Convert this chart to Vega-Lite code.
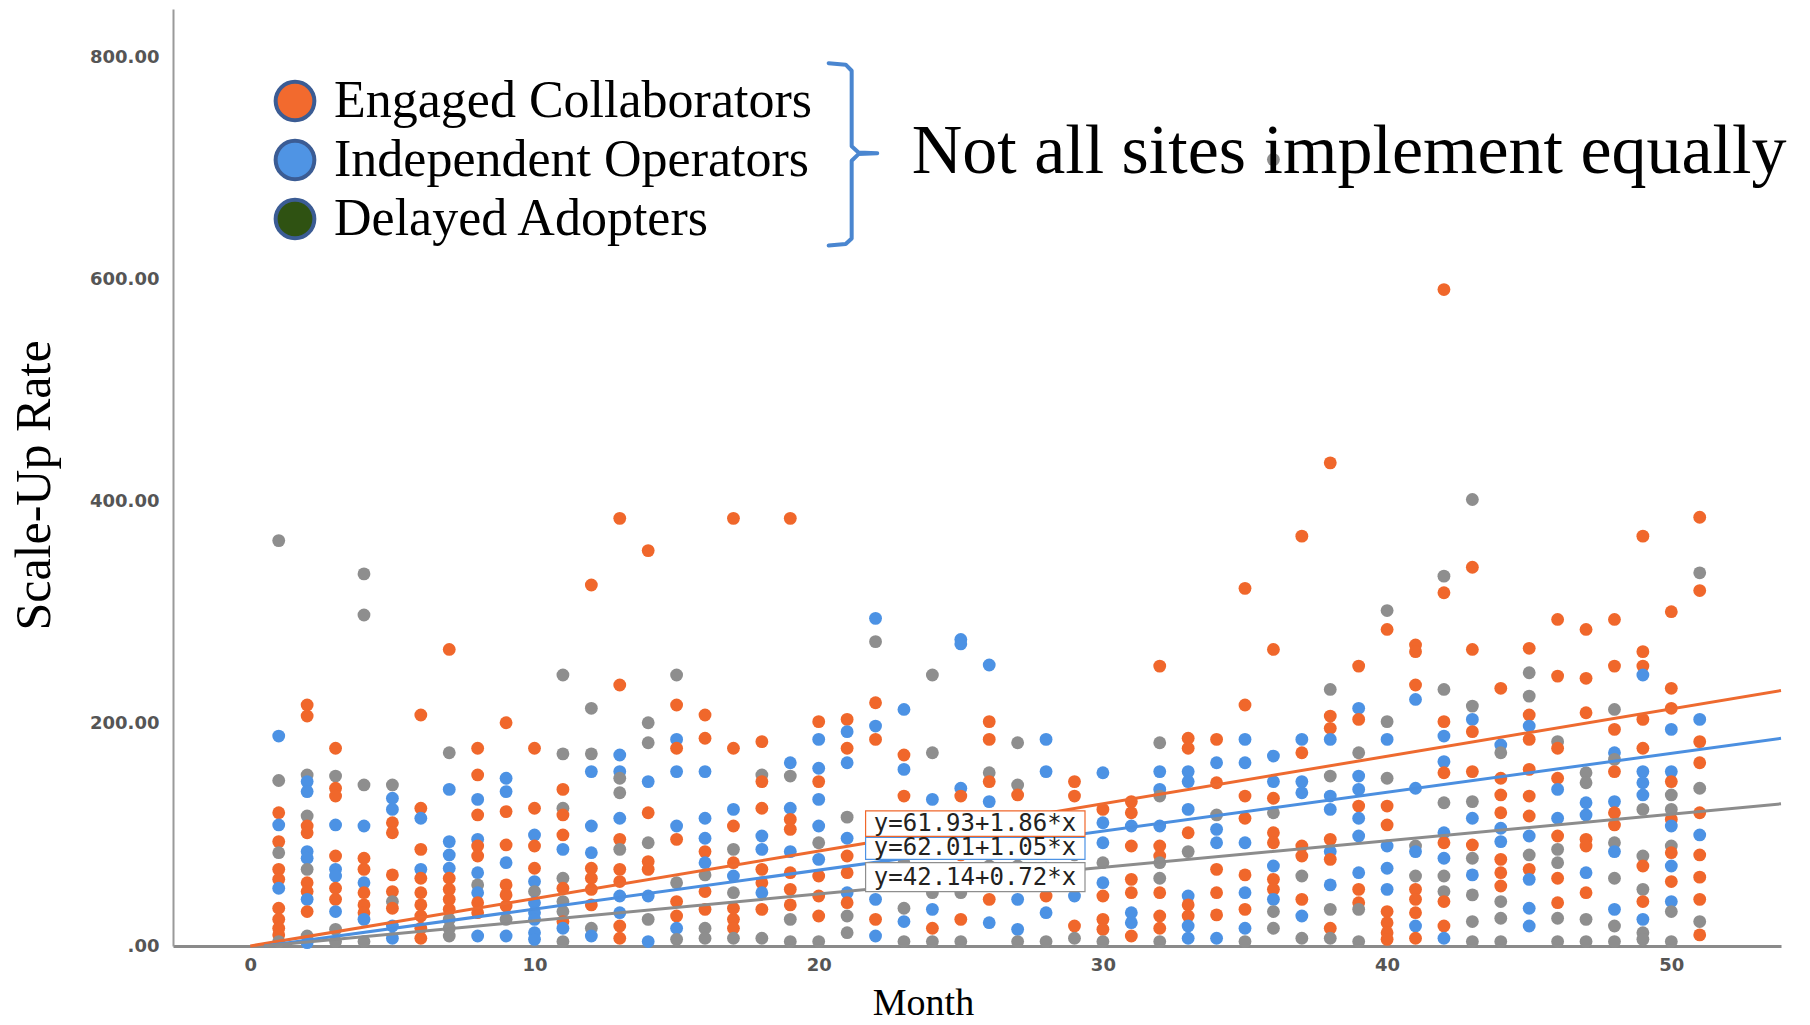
{
  "$schema": "https://vega.github.io/schema/vega-lite/v6.json",
  "autosize": {"type": "none"},
  "padding": {"left": 173, "top": 9, "right": 29, "bottom": 79},
  "width": 1608,
  "height": 937,
  "background": "white",
  "config": {
    "view": {"stroke": null},
    "font": "Liberation Sans"
  },
  "resolve": {"scale": {"color": "independent"}, "legend": {"color": "independent"}},
  "datasets": {
    "pts": [
      {"month":1,"rate":365,"g":"D"},{"month":1,"rate":189,"g":"I"},{"month":1,"rate":149,"g":"D"},{"month":1,"rate":120,"g":"E"},{"month":1,"rate":109,"g":"I"},{"month":1,"rate":94,"g":"E"},{"month":1,"rate":84,"g":"D"},{"month":1,"rate":69,"g":"E"},{"month":1,"rate":60,"g":"E"},{"month":1,"rate":52,"g":"I"},{"month":1,"rate":34,"g":"E"},{"month":1,"rate":24,"g":"E"},{"month":1,"rate":16,"g":"E"},{"month":1,"rate":10,"g":"E"},{"month":1,"rate":4,"g":"D"},
      {"month":2,"rate":217,"g":"E"},{"month":2,"rate":207,"g":"E"},{"month":2,"rate":154,"g":"D"},{"month":2,"rate":148,"g":"I"},{"month":2,"rate":139,"g":"I"},{"month":2,"rate":117,"g":"D"},{"month":2,"rate":108,"g":"E"},{"month":2,"rate":102,"g":"E"},{"month":2,"rate":85,"g":"I"},{"month":2,"rate":79,"g":"I"},{"month":2,"rate":69,"g":"D"},{"month":2,"rate":57,"g":"E"},{"month":2,"rate":49,"g":"E"},{"month":2,"rate":42,"g":"I"},{"month":2,"rate":31,"g":"E"},{"month":2,"rate":9,"g":"D"},{"month":2,"rate":3,"g":"I"},
      {"month":3,"rate":178,"g":"E"},{"month":3,"rate":153,"g":"D"},{"month":3,"rate":142,"g":"E"},{"month":3,"rate":135,"g":"E"},{"month":3,"rate":109,"g":"I"},{"month":3,"rate":81,"g":"E"},{"month":3,"rate":69,"g":"I"},{"month":3,"rate":63,"g":"I"},{"month":3,"rate":52,"g":"E"},{"month":3,"rate":42,"g":"E"},{"month":3,"rate":31,"g":"I"},{"month":3,"rate":15,"g":"D"},{"month":3,"rate":4,"g":"D"},
      {"month":4,"rate":335,"g":"D"},{"month":4,"rate":298,"g":"D"},{"month":4,"rate":145,"g":"D"},{"month":4,"rate":108,"g":"I"},{"month":4,"rate":79,"g":"E"},{"month":4,"rate":69,"g":"E"},{"month":4,"rate":57,"g":"I"},{"month":4,"rate":48,"g":"E"},{"month":4,"rate":37,"g":"E"},{"month":4,"rate":30,"g":"E"},{"month":4,"rate":24,"g":"I"},{"month":4,"rate":4,"g":"D"},
      {"month":5,"rate":145,"g":"D"},{"month":5,"rate":133,"g":"I"},{"month":5,"rate":123,"g":"I"},{"month":5,"rate":111,"g":"E"},{"month":5,"rate":102,"g":"E"},{"month":5,"rate":64,"g":"E"},{"month":5,"rate":49,"g":"E"},{"month":5,"rate":40,"g":"D"},{"month":5,"rate":34,"g":"E"},{"month":5,"rate":18,"g":"I"},{"month":5,"rate":7,"g":"I"},
      {"month":6,"rate":208,"g":"E"},{"month":6,"rate":124,"g":"E"},{"month":6,"rate":115,"g":"I"},{"month":6,"rate":87,"g":"E"},{"month":6,"rate":69,"g":"I"},{"month":6,"rate":61,"g":"E"},{"month":6,"rate":48,"g":"E"},{"month":6,"rate":37,"g":"E"},{"month":6,"rate":27,"g":"E"},{"month":6,"rate":16,"g":"E"},{"month":6,"rate":7,"g":"E"},
      {"month":7,"rate":267,"g":"E"},{"month":7,"rate":174,"g":"D"},{"month":7,"rate":141,"g":"I"},{"month":7,"rate":94,"g":"I"},{"month":7,"rate":82,"g":"I"},{"month":7,"rate":70,"g":"I"},{"month":7,"rate":61,"g":"E"},{"month":7,"rate":51,"g":"E"},{"month":7,"rate":42,"g":"E"},{"month":7,"rate":33,"g":"E"},{"month":7,"rate":24,"g":"D"},{"month":7,"rate":16,"g":"D"},{"month":7,"rate":9,"g":"D"},
      {"month":8,"rate":178,"g":"E"},{"month":8,"rate":154,"g":"E"},{"month":8,"rate":132,"g":"I"},{"month":8,"rate":118,"g":"E"},{"month":8,"rate":96,"g":"I"},{"month":8,"rate":90,"g":"E"},{"month":8,"rate":81,"g":"E"},{"month":8,"rate":66,"g":"I"},{"month":8,"rate":55,"g":"D"},{"month":8,"rate":48,"g":"I"},{"month":8,"rate":39,"g":"E"},{"month":8,"rate":30,"g":"E"},{"month":8,"rate":9,"g":"I"},
      {"month":9,"rate":201,"g":"E"},{"month":9,"rate":151,"g":"I"},{"month":9,"rate":139,"g":"I"},{"month":9,"rate":121,"g":"E"},{"month":9,"rate":91,"g":"E"},{"month":9,"rate":75,"g":"I"},{"month":9,"rate":55,"g":"E"},{"month":9,"rate":46,"g":"E"},{"month":9,"rate":36,"g":"E"},{"month":9,"rate":24,"g":"D"},{"month":9,"rate":9,"g":"I"},
      {"month":10,"rate":178,"g":"E"},{"month":10,"rate":124,"g":"E"},{"month":10,"rate":100,"g":"I"},{"month":10,"rate":90,"g":"E"},{"month":10,"rate":70,"g":"E"},{"month":10,"rate":58,"g":"I"},{"month":10,"rate":49,"g":"D"},{"month":10,"rate":39,"g":"I"},{"month":10,"rate":30,"g":"I"},{"month":10,"rate":24,"g":"I"},{"month":10,"rate":12,"g":"I"},{"month":10,"rate":6,"g":"I"},
      {"month":11,"rate":244,"g":"D"},{"month":11,"rate":173,"g":"D"},{"month":11,"rate":141,"g":"E"},{"month":11,"rate":124,"g":"D"},{"month":11,"rate":118,"g":"E"},{"month":11,"rate":100,"g":"E"},{"month":11,"rate":87,"g":"I"},{"month":11,"rate":61,"g":"D"},{"month":11,"rate":52,"g":"E"},{"month":11,"rate":40,"g":"D"},{"month":11,"rate":31,"g":"D"},{"month":11,"rate":22,"g":"E"},{"month":11,"rate":16,"g":"I"},{"month":11,"rate":4,"g":"D"},
      {"month":12,"rate":325,"g":"E"},{"month":12,"rate":214,"g":"D"},{"month":12,"rate":173,"g":"D"},{"month":12,"rate":157,"g":"I"},{"month":12,"rate":108,"g":"I"},{"month":12,"rate":84,"g":"I"},{"month":12,"rate":70,"g":"E"},{"month":12,"rate":61,"g":"E"},{"month":12,"rate":51,"g":"E"},{"month":12,"rate":37,"g":"E"},{"month":12,"rate":16,"g":"D"},{"month":12,"rate":9,"g":"I"},
      {"month":13,"rate":385,"g":"E"},{"month":13,"rate":235,"g":"E"},{"month":13,"rate":172,"g":"I"},{"month":13,"rate":157,"g":"I"},{"month":13,"rate":151,"g":"D"},{"month":13,"rate":138,"g":"D"},{"month":13,"rate":115,"g":"I"},{"month":13,"rate":96,"g":"E"},{"month":13,"rate":87,"g":"D"},{"month":13,"rate":69,"g":"E"},{"month":13,"rate":58,"g":"E"},{"month":13,"rate":45,"g":"I"},{"month":13,"rate":30,"g":"I"},{"month":13,"rate":18,"g":"E"},{"month":13,"rate":7,"g":"E"},
      {"month":14,"rate":356,"g":"E"},{"month":14,"rate":201,"g":"D"},{"month":14,"rate":183,"g":"D"},{"month":14,"rate":148,"g":"I"},{"month":14,"rate":120,"g":"E"},{"month":14,"rate":93,"g":"D"},{"month":14,"rate":76,"g":"E"},{"month":14,"rate":69,"g":"E"},{"month":14,"rate":45,"g":"I"},{"month":14,"rate":24,"g":"D"},{"month":14,"rate":4,"g":"I"},
      {"month":15,"rate":244,"g":"D"},{"month":15,"rate":217,"g":"E"},{"month":15,"rate":186,"g":"I"},{"month":15,"rate":178,"g":"E"},{"month":15,"rate":157,"g":"I"},{"month":15,"rate":108,"g":"I"},{"month":15,"rate":96,"g":"E"},{"month":15,"rate":57,"g":"D"},{"month":15,"rate":40,"g":"E"},{"month":15,"rate":27,"g":"E"},{"month":15,"rate":16,"g":"I"},{"month":15,"rate":6,"g":"D"},
      {"month":16,"rate":208,"g":"E"},{"month":16,"rate":187,"g":"E"},{"month":16,"rate":157,"g":"I"},{"month":16,"rate":115,"g":"I"},{"month":16,"rate":97,"g":"I"},{"month":16,"rate":85,"g":"E"},{"month":16,"rate":75,"g":"I"},{"month":16,"rate":64,"g":"D"},{"month":16,"rate":49,"g":"E"},{"month":16,"rate":33,"g":"E"},{"month":16,"rate":16,"g":"D"},{"month":16,"rate":7,"g":"D"},
      {"month":17,"rate":385,"g":"E"},{"month":17,"rate":178,"g":"E"},{"month":17,"rate":123,"g":"I"},{"month":17,"rate":108,"g":"E"},{"month":17,"rate":87,"g":"D"},{"month":17,"rate":75,"g":"E"},{"month":17,"rate":63,"g":"I"},{"month":17,"rate":48,"g":"D"},{"month":17,"rate":34,"g":"E"},{"month":17,"rate":24,"g":"E"},{"month":17,"rate":16,"g":"E"},{"month":17,"rate":7,"g":"D"},
      {"month":18,"rate":184,"g":"E"},{"month":18,"rate":154,"g":"D"},{"month":18,"rate":148,"g":"E"},{"month":18,"rate":124,"g":"E"},{"month":18,"rate":99,"g":"I"},{"month":18,"rate":87,"g":"I"},{"month":18,"rate":69,"g":"E"},{"month":18,"rate":57,"g":"E"},{"month":18,"rate":48,"g":"I"},{"month":18,"rate":33,"g":"E"},{"month":18,"rate":7,"g":"D"},
      {"month":19,"rate":385,"g":"E"},{"month":19,"rate":165,"g":"I"},{"month":19,"rate":153,"g":"D"},{"month":19,"rate":124,"g":"I"},{"month":19,"rate":114,"g":"E"},{"month":19,"rate":105,"g":"E"},{"month":19,"rate":85,"g":"I"},{"month":19,"rate":66,"g":"E"},{"month":19,"rate":51,"g":"E"},{"month":19,"rate":37,"g":"E"},{"month":19,"rate":24,"g":"D"},{"month":19,"rate":4,"g":"D"},
      {"month":20,"rate":202,"g":"E"},{"month":20,"rate":186,"g":"I"},{"month":20,"rate":160,"g":"I"},{"month":20,"rate":148,"g":"E"},{"month":20,"rate":132,"g":"I"},{"month":20,"rate":108,"g":"I"},{"month":20,"rate":93,"g":"D"},{"month":20,"rate":78,"g":"I"},{"month":20,"rate":63,"g":"E"},{"month":20,"rate":45,"g":"E"},{"month":20,"rate":27,"g":"E"},{"month":20,"rate":4,"g":"D"},
      {"month":21,"rate":204,"g":"E"},{"month":21,"rate":193,"g":"I"},{"month":21,"rate":178,"g":"E"},{"month":21,"rate":165,"g":"I"},{"month":21,"rate":116,"g":"D"},{"month":21,"rate":97,"g":"I"},{"month":21,"rate":81,"g":"E"},{"month":21,"rate":66,"g":"E"},{"month":21,"rate":48,"g":"I"},{"month":21,"rate":39,"g":"E"},{"month":21,"rate":27,"g":"D"},{"month":21,"rate":12,"g":"D"},
      {"month":22,"rate":295,"g":"I"},{"month":22,"rate":274,"g":"D"},{"month":22,"rate":219,"g":"E"},{"month":22,"rate":198,"g":"I"},{"month":22,"rate":186,"g":"E"},{"month":22,"rate":105,"g":"E"},{"month":22,"rate":88,"g":"I"},{"month":22,"rate":70,"g":"D"},{"month":22,"rate":42,"g":"I"},{"month":22,"rate":24,"g":"E"},{"month":22,"rate":9,"g":"I"},
      {"month":23,"rate":213,"g":"I"},{"month":23,"rate":172,"g":"E"},{"month":23,"rate":159,"g":"I"},{"month":23,"rate":135,"g":"E"},{"month":23,"rate":100,"g":"E"},{"month":23,"rate":75,"g":"D"},{"month":23,"rate":34,"g":"D"},{"month":23,"rate":22,"g":"I"},{"month":23,"rate":4,"g":"D"},
      {"month":24,"rate":244,"g":"D"},{"month":24,"rate":174,"g":"D"},{"month":24,"rate":132,"g":"I"},{"month":24,"rate":110,"g":"E"},{"month":24,"rate":85,"g":"I"},{"month":24,"rate":48,"g":"D"},{"month":24,"rate":33,"g":"I"},{"month":24,"rate":16,"g":"E"},{"month":24,"rate":4,"g":"D"},
      {"month":25,"rate":276,"g":"I"},{"month":25,"rate":272,"g":"I"},{"month":25,"rate":142,"g":"I"},{"month":25,"rate":135,"g":"E"},{"month":25,"rate":105,"g":"D"},{"month":25,"rate":82,"g":"E"},{"month":25,"rate":48,"g":"D"},{"month":25,"rate":24,"g":"E"},{"month":25,"rate":4,"g":"D"},
      {"month":26,"rate":253,"g":"I"},{"month":26,"rate":202,"g":"E"},{"month":26,"rate":186,"g":"E"},{"month":26,"rate":156,"g":"D"},{"month":26,"rate":148,"g":"E"},{"month":26,"rate":130,"g":"I"},{"month":26,"rate":100,"g":"E"},{"month":26,"rate":72,"g":"D"},{"month":26,"rate":42,"g":"E"},{"month":26,"rate":21,"g":"I"},
      {"month":27,"rate":183,"g":"D"},{"month":27,"rate":145,"g":"D"},{"month":27,"rate":136,"g":"E"},{"month":27,"rate":110,"g":"I"},{"month":27,"rate":95,"g":"E"},{"month":27,"rate":72,"g":"D"},{"month":27,"rate":42,"g":"I"},{"month":27,"rate":15,"g":"I"},{"month":27,"rate":4,"g":"D"},
      {"month":28,"rate":186,"g":"I"},{"month":28,"rate":157,"g":"I"},{"month":28,"rate":115,"g":"D"},{"month":28,"rate":90,"g":"E"},{"month":28,"rate":70,"g":"I"},{"month":28,"rate":45,"g":"E"},{"month":28,"rate":30,"g":"I"},{"month":28,"rate":4,"g":"D"},
      {"month":29,"rate":148,"g":"E"},{"month":29,"rate":135,"g":"E"},{"month":29,"rate":100,"g":"I"},{"month":29,"rate":82,"g":"D"},{"month":29,"rate":62,"g":"E"},{"month":29,"rate":45,"g":"I"},{"month":29,"rate":18,"g":"E"},{"month":29,"rate":7,"g":"D"},
      {"month":30,"rate":156,"g":"I"},{"month":30,"rate":123,"g":"E"},{"month":30,"rate":111,"g":"I"},{"month":30,"rate":93,"g":"I"},{"month":30,"rate":75,"g":"D"},{"month":30,"rate":57,"g":"I"},{"month":30,"rate":45,"g":"E"},{"month":30,"rate":24,"g":"E"},{"month":30,"rate":15,"g":"E"},{"month":30,"rate":4,"g":"D"},
      {"month":31,"rate":130,"g":"E"},{"month":31,"rate":120,"g":"E"},{"month":31,"rate":108,"g":"I"},{"month":31,"rate":90,"g":"E"},{"month":31,"rate":60,"g":"E"},{"month":31,"rate":48,"g":"E"},{"month":31,"rate":30,"g":"I"},{"month":31,"rate":21,"g":"I"},{"month":31,"rate":9,"g":"E"},
      {"month":32,"rate":252,"g":"E"},{"month":32,"rate":183,"g":"D"},{"month":32,"rate":157,"g":"I"},{"month":32,"rate":141,"g":"I"},{"month":32,"rate":135,"g":"D"},{"month":32,"rate":108,"g":"I"},{"month":32,"rate":90,"g":"E"},{"month":32,"rate":81,"g":"E"},{"month":32,"rate":75,"g":"D"},{"month":32,"rate":61,"g":"D"},{"month":32,"rate":48,"g":"E"},{"month":32,"rate":27,"g":"E"},{"month":32,"rate":16,"g":"E"},{"month":32,"rate":4,"g":"D"},
      {"month":33,"rate":187,"g":"E"},{"month":33,"rate":178,"g":"E"},{"month":33,"rate":157,"g":"I"},{"month":33,"rate":148,"g":"I"},{"month":33,"rate":123,"g":"I"},{"month":33,"rate":102,"g":"E"},{"month":33,"rate":85,"g":"D"},{"month":33,"rate":45,"g":"I"},{"month":33,"rate":37,"g":"E"},{"month":33,"rate":27,"g":"E"},{"month":33,"rate":18,"g":"I"},{"month":33,"rate":7,"g":"I"},
      {"month":34,"rate":186,"g":"E"},{"month":34,"rate":165,"g":"I"},{"month":34,"rate":147,"g":"E"},{"month":34,"rate":118,"g":"D"},{"month":34,"rate":105,"g":"I"},{"month":34,"rate":93,"g":"I"},{"month":34,"rate":69,"g":"E"},{"month":34,"rate":48,"g":"E"},{"month":34,"rate":28,"g":"E"},{"month":34,"rate":7,"g":"I"},
      {"month":35,"rate":322,"g":"E"},{"month":35,"rate":217,"g":"E"},{"month":35,"rate":186,"g":"I"},{"month":35,"rate":165,"g":"I"},{"month":35,"rate":135,"g":"E"},{"month":35,"rate":115,"g":"E"},{"month":35,"rate":93,"g":"I"},{"month":35,"rate":64,"g":"E"},{"month":35,"rate":48,"g":"I"},{"month":35,"rate":33,"g":"E"},{"month":35,"rate":16,"g":"I"},{"month":35,"rate":4,"g":"D"},
      {"month":36,"rate":708,"g":"D"},{"month":36,"rate":267,"g":"E"},{"month":36,"rate":171,"g":"I"},{"month":36,"rate":148,"g":"I"},{"month":36,"rate":133,"g":"E"},{"month":36,"rate":120,"g":"D"},{"month":36,"rate":102,"g":"E"},{"month":36,"rate":93,"g":"E"},{"month":36,"rate":72,"g":"I"},{"month":36,"rate":60,"g":"E"},{"month":36,"rate":51,"g":"E"},{"month":36,"rate":42,"g":"I"},{"month":36,"rate":31,"g":"D"},{"month":36,"rate":16,"g":"D"},
      {"month":37,"rate":369,"g":"E"},{"month":37,"rate":186,"g":"I"},{"month":37,"rate":174,"g":"E"},{"month":37,"rate":148,"g":"I"},{"month":37,"rate":138,"g":"I"},{"month":37,"rate":90,"g":"E"},{"month":37,"rate":81,"g":"E"},{"month":37,"rate":63,"g":"D"},{"month":37,"rate":42,"g":"E"},{"month":37,"rate":27,"g":"I"},{"month":37,"rate":7,"g":"D"},
      {"month":38,"rate":435,"g":"E"},{"month":38,"rate":231,"g":"D"},{"month":38,"rate":207,"g":"E"},{"month":38,"rate":196,"g":"E"},{"month":38,"rate":186,"g":"I"},{"month":38,"rate":153,"g":"D"},{"month":38,"rate":135,"g":"I"},{"month":38,"rate":123,"g":"I"},{"month":38,"rate":96,"g":"E"},{"month":38,"rate":85,"g":"I"},{"month":38,"rate":78,"g":"E"},{"month":38,"rate":55,"g":"I"},{"month":38,"rate":33,"g":"D"},{"month":38,"rate":16,"g":"E"},{"month":38,"rate":7,"g":"D"},
      {"month":39,"rate":252,"g":"E"},{"month":39,"rate":214,"g":"I"},{"month":39,"rate":204,"g":"E"},{"month":39,"rate":174,"g":"D"},{"month":39,"rate":153,"g":"I"},{"month":39,"rate":141,"g":"I"},{"month":39,"rate":126,"g":"E"},{"month":39,"rate":115,"g":"I"},{"month":39,"rate":99,"g":"I"},{"month":39,"rate":66,"g":"I"},{"month":39,"rate":51,"g":"E"},{"month":39,"rate":39,"g":"E"},{"month":39,"rate":33,"g":"D"},{"month":39,"rate":4,"g":"D"},
      {"month":40,"rate":302,"g":"D"},{"month":40,"rate":285,"g":"E"},{"month":40,"rate":202,"g":"D"},{"month":40,"rate":186,"g":"I"},{"month":40,"rate":151,"g":"D"},{"month":40,"rate":126,"g":"E"},{"month":40,"rate":109,"g":"E"},{"month":40,"rate":90,"g":"I"},{"month":40,"rate":70,"g":"I"},{"month":40,"rate":51,"g":"I"},{"month":40,"rate":31,"g":"E"},{"month":40,"rate":21,"g":"E"},{"month":40,"rate":12,"g":"E"},{"month":40,"rate":6,"g":"E"},
      {"month":41,"rate":271,"g":"E"},{"month":41,"rate":265,"g":"E"},{"month":41,"rate":235,"g":"E"},{"month":41,"rate":222,"g":"I"},{"month":41,"rate":142,"g":"I"},{"month":41,"rate":90,"g":"D"},{"month":41,"rate":85,"g":"I"},{"month":41,"rate":63,"g":"D"},{"month":41,"rate":51,"g":"E"},{"month":41,"rate":42,"g":"E"},{"month":41,"rate":30,"g":"E"},{"month":41,"rate":18,"g":"I"},{"month":41,"rate":7,"g":"E"},
      {"month":42,"rate":591,"g":"E"},{"month":42,"rate":333,"g":"D"},{"month":42,"rate":318,"g":"E"},{"month":42,"rate":231,"g":"D"},{"month":42,"rate":202,"g":"E"},{"month":42,"rate":189,"g":"I"},{"month":42,"rate":166,"g":"I"},{"month":42,"rate":156,"g":"E"},{"month":42,"rate":129,"g":"D"},{"month":42,"rate":102,"g":"I"},{"month":42,"rate":93,"g":"E"},{"month":42,"rate":79,"g":"I"},{"month":42,"rate":63,"g":"D"},{"month":42,"rate":49,"g":"D"},{"month":42,"rate":40,"g":"E"},{"month":42,"rate":18,"g":"E"},{"month":42,"rate":7,"g":"I"},
      {"month":43,"rate":402,"g":"D"},{"month":43,"rate":341,"g":"E"},{"month":43,"rate":267,"g":"E"},{"month":43,"rate":216,"g":"D"},{"month":43,"rate":204,"g":"I"},{"month":43,"rate":193,"g":"E"},{"month":43,"rate":157,"g":"E"},{"month":43,"rate":130,"g":"D"},{"month":43,"rate":115,"g":"I"},{"month":43,"rate":91,"g":"E"},{"month":43,"rate":79,"g":"D"},{"month":43,"rate":64,"g":"I"},{"month":43,"rate":46,"g":"D"},{"month":43,"rate":22,"g":"D"},{"month":43,"rate":4,"g":"D"},
      {"month":44,"rate":232,"g":"E"},{"month":44,"rate":181,"g":"I"},{"month":44,"rate":174,"g":"D"},{"month":44,"rate":151,"g":"E"},{"month":44,"rate":136,"g":"E"},{"month":44,"rate":120,"g":"E"},{"month":44,"rate":106,"g":"I"},{"month":44,"rate":94,"g":"I"},{"month":44,"rate":78,"g":"E"},{"month":44,"rate":66,"g":"E"},{"month":44,"rate":54,"g":"E"},{"month":44,"rate":40,"g":"D"},{"month":44,"rate":25,"g":"D"},{"month":44,"rate":4,"g":"D"},
      {"month":45,"rate":268,"g":"E"},{"month":45,"rate":246,"g":"D"},{"month":45,"rate":225,"g":"D"},{"month":45,"rate":208,"g":"E"},{"month":45,"rate":198,"g":"I"},{"month":45,"rate":186,"g":"E"},{"month":45,"rate":159,"g":"E"},{"month":45,"rate":135,"g":"E"},{"month":45,"rate":117,"g":"E"},{"month":45,"rate":99,"g":"I"},{"month":45,"rate":82,"g":"D"},{"month":45,"rate":69,"g":"E"},{"month":45,"rate":60,"g":"I"},{"month":45,"rate":34,"g":"I"},{"month":45,"rate":18,"g":"I"},
      {"month":46,"rate":294,"g":"E"},{"month":46,"rate":243,"g":"E"},{"month":46,"rate":184,"g":"D"},{"month":46,"rate":178,"g":"E"},{"month":46,"rate":151,"g":"E"},{"month":46,"rate":141,"g":"I"},{"month":46,"rate":115,"g":"I"},{"month":46,"rate":99,"g":"E"},{"month":46,"rate":87,"g":"D"},{"month":46,"rate":75,"g":"D"},{"month":46,"rate":61,"g":"E"},{"month":46,"rate":39,"g":"E"},{"month":46,"rate":25,"g":"D"},{"month":46,"rate":4,"g":"D"},
      {"month":47,"rate":285,"g":"E"},{"month":47,"rate":241,"g":"E"},{"month":47,"rate":210,"g":"E"},{"month":47,"rate":156,"g":"D"},{"month":47,"rate":147,"g":"D"},{"month":47,"rate":129,"g":"I"},{"month":47,"rate":118,"g":"I"},{"month":47,"rate":96,"g":"E"},{"month":47,"rate":90,"g":"E"},{"month":47,"rate":66,"g":"I"},{"month":47,"rate":48,"g":"E"},{"month":47,"rate":24,"g":"D"},{"month":47,"rate":4,"g":"D"},
      {"month":48,"rate":294,"g":"E"},{"month":48,"rate":252,"g":"E"},{"month":48,"rate":213,"g":"D"},{"month":48,"rate":195,"g":"E"},{"month":48,"rate":174,"g":"I"},{"month":48,"rate":168,"g":"D"},{"month":48,"rate":157,"g":"E"},{"month":48,"rate":130,"g":"I"},{"month":48,"rate":120,"g":"E"},{"month":48,"rate":109,"g":"E"},{"month":48,"rate":93,"g":"D"},{"month":48,"rate":85,"g":"I"},{"month":48,"rate":61,"g":"D"},{"month":48,"rate":33,"g":"I"},{"month":48,"rate":18,"g":"D"},{"month":48,"rate":4,"g":"D"},
      {"month":49,"rate":369,"g":"E"},{"month":49,"rate":265,"g":"E"},{"month":49,"rate":252,"g":"E"},{"month":49,"rate":244,"g":"I"},{"month":49,"rate":204,"g":"E"},{"month":49,"rate":178,"g":"E"},{"month":49,"rate":157,"g":"I"},{"month":49,"rate":147,"g":"I"},{"month":49,"rate":136,"g":"I"},{"month":49,"rate":123,"g":"D"},{"month":49,"rate":81,"g":"D"},{"month":49,"rate":72,"g":"E"},{"month":49,"rate":51,"g":"D"},{"month":49,"rate":40,"g":"E"},{"month":49,"rate":24,"g":"I"},{"month":49,"rate":12,"g":"D"},{"month":49,"rate":6,"g":"D"},
      {"month":50,"rate":301,"g":"E"},{"month":50,"rate":232,"g":"E"},{"month":50,"rate":214,"g":"E"},{"month":50,"rate":195,"g":"I"},{"month":50,"rate":157,"g":"I"},{"month":50,"rate":148,"g":"E"},{"month":50,"rate":136,"g":"D"},{"month":50,"rate":123,"g":"D"},{"month":50,"rate":114,"g":"E"},{"month":50,"rate":108,"g":"I"},{"month":50,"rate":90,"g":"D"},{"month":50,"rate":84,"g":"E"},{"month":50,"rate":72,"g":"I"},{"month":50,"rate":58,"g":"E"},{"month":50,"rate":40,"g":"I"},{"month":50,"rate":31,"g":"D"},{"month":50,"rate":4,"g":"D"},
      {"month":51,"rate":386,"g":"E"},{"month":51,"rate":336,"g":"D"},{"month":51,"rate":320,"g":"E"},{"month":51,"rate":204,"g":"I"},{"month":51,"rate":184,"g":"E"},{"month":51,"rate":165,"g":"E"},{"month":51,"rate":142,"g":"D"},{"month":51,"rate":120,"g":"E"},{"month":51,"rate":100,"g":"I"},{"month":51,"rate":82,"g":"E"},{"month":51,"rate":62,"g":"E"},{"month":51,"rate":42,"g":"E"},{"month":51,"rate":22,"g":"D"},{"month":51,"rate":10,"g":"E"}
    ],
    "fits": [
      {"g":"E","month":0,"rate":0},{"g":"E","month":53.86,"rate":230},
      {"g":"I","month":0.5,"rate":0},{"g":"I","month":53.86,"rate":187},
      {"g":"D","month":0.5,"rate":0},{"g":"D","month":53.86,"rate":128}
    ],
    "eqs": [
      {"g":"E","text":"y=61.93+1.86*x","month":25.5,"rate":110,"x1":21.65,"x2":29.37,"y1":98.7,"y2":121.6},
      {"g":"I","text":"y=62.01+1.05*x","month":25.5,"rate":88,"x1":21.65,"x2":29.37,"y1":78,"y2":97.7},
      {"g":"D","text":"y=42.14+0.72*x","month":25.5,"rate":61,"x1":21.65,"x2":29.37,"y1":49,"y2":75}
    ],
    "bracket": [
      {"i":0,"month":20.35,"rate":794.8},{"i":1,"month":20.95,"rate":793.5},{"i":2,"month":21.16,"rate":788},
      {"i":3,"month":21.16,"rate":720},{"i":4,"month":21.4,"rate":714.5},{"i":5,"month":22.06,"rate":713.8},
      {"i":6,"month":21.4,"rate":713},{"i":7,"month":21.16,"rate":707},{"i":8,"month":21.16,"rate":637},
      {"i":9,"month":20.95,"rate":632},{"i":10,"month":20.35,"rate":630.6}
    ],
    "note": [
      {"text":"Not all sites implement equally","month":23.27,"rate":696}
    ]
  },
  "layer": [
    {
      "data": {"name": "pts"},
      "mark": {"type": "circle", "size": 165, "opacity": 1},
      "encoding": {
        "x": {
          "field": "month", "type": "quantitative",
          "scale": {"domain": [-2.72, 53.86], "nice": false, "zero": false},
          "axis": {
            "title": "Month", "titleFont": "Liberation Serif", "titleFontSize": 38, "titleFontWeight": "normal", "titleColor": "#000",
            "titleX": 750, "titleY": 68, "titleBaseline": "alphabetic", "titleAnchor": "middle", "titleAlign": "center",
            "values": [0, 10, 20, 30, 40, 50], "ticks": false, "grid": false,
            "labelFont": "DejaVu Sans", "labelFontWeight": "bold", "labelFontSize": 18, "labelColor": "#555",
            "labelPadding": 10, "domainColor": "#8a8a8a", "domainWidth": 3
          }
        },
        "y": {
          "field": "rate", "type": "quantitative",
          "scale": {"domain": [0, 843.6], "nice": false},
          "axis": {
            "title": "Scale-Up Rate", "titleFont": "Liberation Serif", "titleFontSize": 50, "titleFontWeight": "normal", "titleColor": "#000",
            "titleAngle": -90, "titleX": -124, "titleY": 476, "titleBaseline": "alphabetic", "titleAlign": "center",
            "values": [0, 200, 400, 600, 800], "ticks": false, "grid": false,
            "labelExpr": "datum.value === 0 ? '.00' : format(datum.value, '.2f')",
            "labelFont": "DejaVu Sans", "labelFontWeight": "bold", "labelFontSize": 18, "labelColor": "#555",
            "labelPadding": 14, "domainColor": "#9a9a9a", "domainWidth": 2
          }
        },
        "color": {
          "field": "g", "type": "nominal",
          "scale": {"domain": ["E", "I", "D"], "range": ["#F0672B", "#4C92E4", "#8E8E8E"]},
          "legend": null
        }
      }
    },
    {
      "data": {"name": "eqs"},
      "mark": {"type": "circle", "size": 20, "opacity": 1, "stroke": "#3B5C94", "strokeWidth": 4},
      "encoding": {
        "x": {"field": "month", "type": "quantitative"},
        "y": {"field": "rate", "type": "quantitative"},
        "color": {
          "field": "g", "type": "nominal",
          "scale": {"domain": ["E", "I", "D"], "range": ["#F26A2E", "#4F94E4", "#2F5212"]},
          "legend": {
            "orient": "none", "legendX": 96, "legendY": 66, "title": null, "direction": "vertical",
            "padding": 0, "symbolType": "circle", "symbolSize": 1500, "symbolStrokeWidth": 4,
            "symbolStrokeColor": "#3B5C94", "symbolOpacity": 1,
            "labelFont": "Liberation Serif", "labelFontSize": 52, "labelColor": "#000", "labelOffset": 13,
            "labelLimit": 800, "rowPadding": 3,
            "labelExpr": "datum.value === 'E' ? 'Engaged Collaborators' : datum.value === 'I' ? 'Independent Operators' : 'Delayed Adopters'"
          }
        }
      }
    },
    {
      "data": {"name": "fits"},
      "mark": {"type": "line", "strokeWidth": 3},
      "encoding": {
        "x": {"field": "month", "type": "quantitative"},
        "y": {"field": "rate", "type": "quantitative"},
        "color": {"field": "g", "type": "nominal", "scale": {"domain": ["E", "I", "D"], "range": ["#EE6A2F", "#4B8FE0", "#8C8C8C"]}, "legend": null}
      }
    },
    {
      "data": {"name": "eqs"},
      "mark": {"type": "rect", "fill": "white", "strokeWidth": 1.2},
      "encoding": {
        "x": {"field": "x1", "type": "quantitative"},
        "x2": {"field": "x2"},
        "y": {"field": "y1", "type": "quantitative"},
        "y2": {"field": "y2"},
        "stroke": {"field": "g", "type": "nominal", "scale": {"domain": ["E", "I", "D"], "range": ["#F0672B", "#4C92E4", "#8E8E8E"]}, "legend": null}
      }
    },
    {
      "data": {"name": "eqs"},
      "mark": {"type": "text", "font": "DejaVu Sans Mono", "fontSize": 24, "color": "#222", "align": "center", "baseline": "middle"},
      "encoding": {
        "x": {"field": "month", "type": "quantitative"},
        "y": {"field": "rate", "type": "quantitative"},
        "text": {"field": "text"}
      }
    },
    {
      "data": {"name": "bracket"},
      "mark": {"type": "line", "color": "#4A86D0", "strokeWidth": 4, "strokeCap": "round", "strokeJoin": "round"},
      "encoding": {
        "x": {"field": "month", "type": "quantitative"},
        "y": {"field": "rate", "type": "quantitative"},
        "order": {"field": "i", "type": "quantitative"}
      }
    },
    {
      "data": {"name": "note"},
      "mark": {"type": "text", "font": "Liberation Serif", "fontSize": 70, "color": "#000", "align": "left", "baseline": "alphabetic"},
      "encoding": {
        "x": {"field": "month", "type": "quantitative"},
        "y": {"field": "rate", "type": "quantitative"},
        "text": {"field": "text"}
      }
    }
  ]
}
